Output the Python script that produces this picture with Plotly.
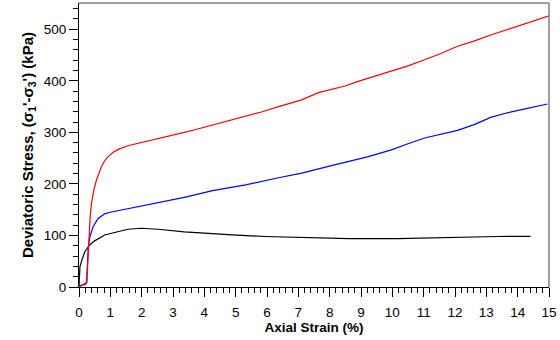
import plotly.graph_objects as go

red_x = [0, 0.1, 0.2, 0.25, 0.29, 0.32, 0.36, 0.40, 0.48, 0.56, 0.64, 0.72, 0.82, 0.93, 1.08, 1.25, 1.56, 1.99, 2.52, 3.04, 3.36, 3.7, 4.26, 4.8, 5.32, 5.85, 6.37, 7.11, 7.64, 8.1, 8.49, 8.91, 9.23, 9.97, 10.5, 11.03, 11.55, 12.08, 12.6, 13.14, 13.7, 14.2, 14.6, 15.0]
red_y = [0, 3, 6, 9, 60, 111, 140, 163, 190, 208, 222, 234, 245, 253, 261, 267, 274, 280, 287, 295, 300, 305, 314, 322, 331, 340, 350, 363, 377, 384, 390, 399, 405, 418, 429, 441, 453, 467, 477, 489, 500, 511, 518, 526]

blue_x = [0, 0.1, 0.2, 0.24, 0.27, 0.3, 0.35, 0.45, 0.61, 0.82, 1.0, 1.25, 1.67, 2.2, 2.73, 3.2, 3.36, 4.26, 5.32, 6.37, 7.11, 7.96, 8.49, 8.91, 9.23, 9.97, 10.5, 11.03, 12.08, 12.61, 13.14, 13.67, 14.2, 14.5, 14.83, 14.95]
blue_y = [2, 3, 5, 8, 50, 80, 98, 117, 133, 142, 145, 148, 154, 159, 166, 172, 174, 187, 198, 212, 221, 234, 241, 248, 253, 266, 278, 289, 304, 315, 329, 338, 345, 349, 353, 355]

black_x = [0, 0.01, 0.03, 0.09, 0.19, 0.35, 0.51, 0.82, 1.14, 1.56, 1.99, 2.52, 3.36, 3.84, 4.89, 5.95, 7.0, 8.6, 10.18, 11.77, 13.35, 14.41]
black_y = [0, 20, 39, 52, 69, 82, 90, 101, 106, 112, 114, 112, 107, 105, 101, 98, 96, 94, 94, 96.5, 98, 98.4]

x_ticks = list(range(0, 16))
y_ticks = [0, 100, 200, 300, 400, 500]

FONT = "Liberation Sans, Arial, sans-serif"

fig = go.Figure()
for xs, ys, col in [(black_x, black_y, "#000000"), (blue_x, blue_y, "#0000ff"), (red_x, red_y, "#ff0000")]:
    fig.add_trace(go.Scatter(x=xs, y=ys, mode="lines", line=dict(color=col, width=1.2), showlegend=False, hoverinfo="skip"))

fig.update_layout(
    width=560, height=340,
    margin=dict(l=79, r=8, t=3, b=53),
    paper_bgcolor="white", plot_bgcolor="white",
    font=dict(family=FONT, size=13, color="#000000"),
    xaxis=dict(
        range=[0, 15], tickvals=x_ticks, ticktext=[str(v) for v in x_ticks],
        showgrid=False, zeroline=False, showline=True, linecolor="#000000", linewidth=1,
        ticks="outside", ticklen=9, tickcolor="#000000", tickwidth=1,
        minor=dict(dtick=0.2, ticks="outside", ticklen=5, tickcolor="#000000", showgrid=False),
        ticklabelstandoff=4,
        title=dict(text="<b>Axial Strain (%)</b>", font=dict(size=13.5), standoff=3),
        tickfont=dict(size=13.5),
    ),
    yaxis=dict(
        range=[0, 551], tickvals=y_ticks, ticktext=[str(v) for v in y_ticks],
        showgrid=False, zeroline=False, showline=True, linecolor="#000000", linewidth=1,
        ticks="outside", ticklen=9, tickcolor="#000000", tickwidth=1,
        minor=dict(dtick=20, ticks="outside", ticklen=5, tickcolor="#000000", showgrid=False),
        title=dict(text="<b>Deviatoric Stress, (σ<sub>1</sub>'-σ<sub>3</sub>') (kPa)</b>", font=dict(size=15), standoff=6),
        tickfont=dict(size=13.5),
    ),
    shapes=[
        dict(type="line", xref="paper", yref="paper", x0=0, x1=1, y0=1, y1=1, line=dict(color="#808080", width=1.5)),
        dict(type="line", xref="paper", yref="paper", x0=1, x1=1, y0=0, y1=1, line=dict(color="#808080", width=1.5)),
    ],
)

fig.write_html("out.html")
